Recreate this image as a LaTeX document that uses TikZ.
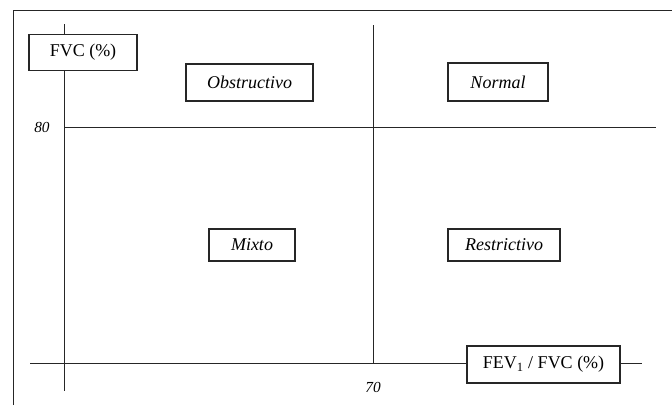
\documentclass[tikz,border=0pt]{standalone}
\usepackage{fontspec}
\setmainfont{Liberation Serif}
\begin{document}
\begin{tikzpicture}[x=0.75pt,y=-0.75pt,
  rule/.style={line width=0.75pt, draw=black!85},
  label/.style={draw=black!85, line width=0.8pt, fill=white, inner sep=0pt,
    font=\fontsize{13.5}{16}\selectfont},
  zone/.style={label, font=\fontsize{13.5}{16}\selectfont\itshape},
  tick/.style={font=\fontsize{11.5}{14}\selectfont\itshape}]
\useasboundingbox (0,0) rectangle (672,405);
% open frame: top and left edges only
\coordinate (frameBL) at (13,405);
\coordinate (frameTL) at (13,10);
\coordinate (frameTR) at (672,10);
\draw[rule] (frameBL) -- (frameTL) -- (frameTR);
% axis end points
\coordinate (yTop) at (64,24);
\coordinate (yBot) at (64,391);
\coordinate (xLeft) at (30,363);
\coordinate (xRight) at (642,363);
\coordinate (midTop) at (373,25);
\coordinate (midBot) at (373,363);
\coordinate (h80L) at (64,127);
\coordinate (h80R) at (656,127);
% grid lines
\draw[rule] (yTop) -- (yBot);
\draw[rule] (xLeft) -- (xRight);
\draw[rule] (midTop) -- (midBot);
\draw[rule] (h80L) -- (h80R);
% axis titles
\node[label, minimum width=81pt, minimum height=27pt] (fvc) at (83,52.5) {FVC (\%)};
\node[label, minimum width=114.75pt, minimum height=27.75pt] (ratio) at (543.5,364.5)
  {FEV\textsubscript{1} / FVC (\%)};
% thresholds
\node[tick] (t80) at (42,127) {80};
\node[tick] (t70) at (373,387) {70};
% quadrant labels
\node[zone, minimum width=95.25pt, minimum height=27.75pt] (obs) at (249.5,82.5) {Obstructivo};
\node[zone, minimum width=75pt, minimum height=28.5pt] (norm) at (498,82) {Normal};
\node[zone, minimum width=64.5pt, minimum height=24pt] (mix) at (252,245) {Mixto};
\node[zone, minimum width=84pt, minimum height=24pt] (res) at (504,245) {Restrictivo};
\end{tikzpicture}
\end{document}
